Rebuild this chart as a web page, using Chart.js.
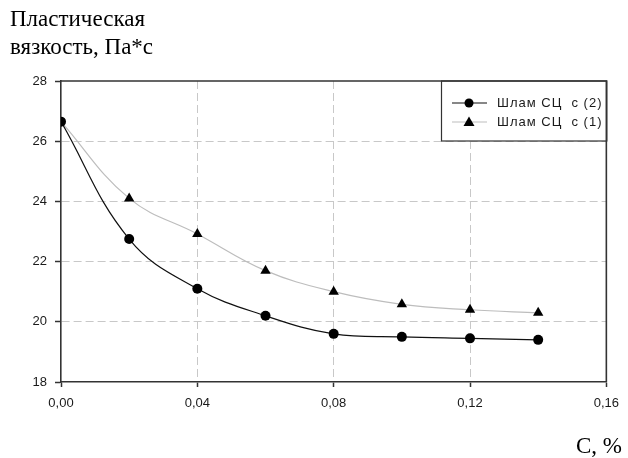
<!DOCTYPE html>
<html>
<head>
<meta charset="utf-8">
<script src="https://cdn.jsdelivr.net/npm/chart.js@4/dist/chart.umd.min.js"></script>
<style>
html, body { margin: 0; padding: 0; background: #fff; overflow: hidden; }
#wrap { position: relative; width: 628px; height: 458px; overflow: hidden; }
#chart { position: absolute; left: 0; top: 0; }
.ttl { position: absolute; font-family: "Liberation Serif", "Times New Roman", serif; font-size: 23px; line-height: 28px; color: #000; white-space: nowrap; }
</style>
</head>
<body>
<div id="wrap">
  <canvas id="chart" width="628" height="458"></canvas>
  <div class="ttl" style="left:10px; top:5px;">Пластическая<br>вязкость, Па*с</div>
  <div class="ttl" style="left:576px; top:432px;">С, %</div>
</div>
<script>
var concentrations = [0, 0.02, 0.04, 0.06, 0.08, 0.10, 0.12, 0.14];
var viscosity2 = [26.65, 22.75, 21.1, 20.2, 19.6, 19.5, 19.45, 19.4];
var viscosity1 = [26.65, 24.1, 22.92, 21.7, 21.0, 20.58, 20.4, 20.3];
var seriesNames = ["Шлам СЦ  с (2)", "Шлам СЦ  с (1)"];
var xTicks = [0, 0.04, 0.08, 0.12, 0.16];
var yTicks = [18, 20, 22, 24, 26, 28];

function toPoints(xs, ys) {
    return xs.map(function (x, i) { return {x: x, y: ys[i]}; });
}

var frameColor = '#333';
var gridColor = '#c8c8c8';
var tickFont = {family: '"Liberation Sans", Arial, sans-serif', size: 13};

// top and right frame lines plus the legend box in the upper right corner
var framePlugin = {
    id: 'frame',
    afterDatasetsDraw: function (chart) {
        var ctx = chart.ctx;
        var a = chart.chartArea;
        var ds = chart.data.datasets;

        // legend box
        var bx = 441, by = a.top, bw = a.right - 441, bh = 60;
        ctx.save();
        ctx.fillStyle = '#fff';
        ctx.fillRect(bx, by, bw, bh);
        ctx.strokeStyle = frameColor;
        ctx.lineWidth = 1.2;
        ctx.strokeRect(bx + 0.5, by, bw, bh);

        var rows = [103, 122];
        ds.forEach(function (d, i) {
            var y = rows[i];
            ctx.strokeStyle = d.borderColor;
            ctx.lineWidth = 1.2;
            ctx.beginPath();
            ctx.moveTo(452, y);
            ctx.lineTo(487, y);
            ctx.stroke();
            ctx.fillStyle = '#000';
            ctx.beginPath();
            if (d.pointStyle === 'triangle') {
                ctx.moveTo(469, y - 5.5);
                ctx.lineTo(474.5, y + 4);
                ctx.lineTo(463.5, y + 4);
                ctx.closePath();
            } else {
                ctx.arc(469, y, 4.5, 0, Math.PI * 2);
            }
            ctx.fill();
            ctx.fillStyle = '#1a1a1a';
            ctx.font = '13px "Liberation Sans", Arial, sans-serif';
            ctx.letterSpacing = '1px';
            ctx.textBaseline = 'middle';
            ctx.textAlign = 'left';
            ctx.fillText(d.label, 497, y);
            ctx.letterSpacing = '0px';
        });

        // frame
        ctx.strokeStyle = frameColor;
        ctx.lineWidth = 1.6;
        ctx.beginPath();
        ctx.moveTo(a.left, a.top);
        ctx.lineTo(a.right, a.top);
        ctx.lineTo(a.right, a.bottom);
        ctx.stroke();
        ctx.restore();
    }
};

var ctx = document.getElementById('chart').getContext('2d');
var chart = new Chart(ctx, {
    type: 'line',
    data: {
        datasets: [{
            label: seriesNames[0],
            data: toPoints(concentrations, viscosity2),
            borderColor: '#111',
            borderWidth: 1.2,
            backgroundColor: '#000',
            pointStyle: 'circle',
            pointRadius: 5,
            pointBorderWidth: 0,
            tension: 0.4,
            order: 1
        }, {
            label: seriesNames[1],
            data: toPoints(concentrations, viscosity1),
            borderColor: '#bdbdbd',
            borderWidth: 1.2,
            backgroundColor: '#000',
            pointStyle: 'triangle',
            pointRadius: function (c) { return c.dataIndex === 0 ? 0 : 6; },
            pointBorderWidth: 0,
            tension: 0.4,
            order: 2
        }]
    },
    options: {
        responsive: false,
        animation: false,
        devicePixelRatio: 1,
        layout: {padding: {top: 81, right: 16, left: 0, bottom: 0}},
        plugins: {legend: {display: false}, tooltip: {enabled: false}},
        scales: {
            x: {
                type: 'linear',
                min: 0,
                max: 0.16,
                afterBuildTicks: function (s) { s.ticks = xTicks.map(function (v) { return {value: v}; }); },
                afterFit: function (s) { s.height = 76; },
                ticks: {
                    font: tickFont,
                    color: '#1a1a1a',
                    padding: 9,
                    maxRotation: 0,
                    callback: function (v) { return v.toFixed(2).replace('.', ','); }
                },
                grid: {
                    color: function (c) { return (c.tick && (c.tick.value === 0 || c.tick.value === 0.16)) ? 'rgba(0,0,0,0)' : gridColor; },
                    lineWidth: 1,
                    tickLength: 5,
                    tickColor: frameColor,
                    tickWidth: 1.5,
                    tickBorderDash: []
                },
                border: {display: true, color: frameColor, width: 1.6, dash: [8, 4]}
            },
            y: {
                min: 18,
                max: 28,
                afterBuildTicks: function (s) { s.ticks = yTicks.map(function (v) { return {value: v}; }); },
                afterFit: function (s) { s.width = 61; },
                ticks: {
                    font: tickFont,
                    color: '#1a1a1a',
                    padding: 8
                },
                grid: {
                    color: function (c) { return (c.tick && (c.tick.value === 18 || c.tick.value === 28)) ? 'rgba(0,0,0,0)' : gridColor; },
                    lineWidth: 1,
                    tickLength: 6,
                    tickColor: frameColor,
                    tickWidth: 1.5,
                    tickBorderDash: []
                },
                border: {display: true, color: frameColor, width: 1.6, dash: [8, 4]}
            }
        }
    },
    plugins: [framePlugin]
});
</script>
</body>
</html>
